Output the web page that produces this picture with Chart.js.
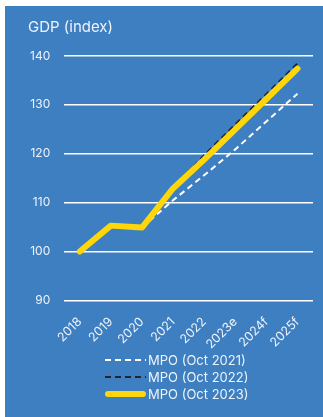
<!DOCTYPE html>
<html>
<head>
<meta charset="utf-8">
<script src="https://cdn.jsdelivr.net/npm/chart.js@4.4.0/dist/chart.umd.min.js"></script>
<style>
    html, body { margin: 0; padding: 0; background: #ffffff; }
    .box {
        position: absolute;
        left: 5px; top: 6px;
        width: 318px; height: 411px;
        background: #3e7fc1;
    }
</style>
</head>
<body>
<div class="box"><canvas id="gdpChart"></canvas></div>
<script>
/* GDP index, three MPO vintages */
const years = ['2018', '2019', '2020', '2021', '2022', '2023e', '2024f', '2025f'];
const mpoOct2021 = [null, null, 104.9, 110.5, 115.6, 120.9, 126.6, 132.3];
const mpoOct2022 = [null, null, null, 112.9, 119.7, 126.0, 132.2, 138.5];
const mpoOct2023 = [100, 105.3, 104.9, 112.9, 118.8, 125.0, 131.2, 137.4];
const yTicks = [90, 100, 110, 120, 130, 140];
const chartTitle = 'GDP (index)';

const fontFamily = 'Inter, "Open Sans", sans-serif';
const textColor = '#eef3fa';

// title + legend drawn by hand so they sit like the original
const decor = {
    id: 'decor',
    afterDraw(chart) {
        const ctx = chart.ctx;
        ctx.save();
        ctx.fillStyle = textColor;
        ctx.font = '15px ' + fontFamily;
        ctx.textBaseline = 'middle';
        ctx.fillText(chartTitle, 23, 21);
        ctx.restore();

        const x0 = 100, lineLen = 41, top = 354, rowH = 17;
        chart.data.datasets.forEach(function(ds, i) {
            const y = top + i * rowH;
            ctx.save();
            ctx.strokeStyle = ds.borderColor;
            ctx.lineWidth = ds.borderWidth;
            ctx.lineCap = ds.borderCapStyle || 'butt';
            ctx.setLineDash(ds.borderDash || []);
            ctx.beginPath();
            const inset = ds.borderCapStyle === 'round' ? ds.borderWidth / 2 : 0;
            ctx.moveTo(x0 + inset, y);
            ctx.lineTo(x0 + lineLen - inset, y);
            ctx.stroke();
            ctx.restore();
            ctx.save();
            ctx.fillStyle = textColor;
            ctx.font = '13px ' + fontFamily;
            ctx.textBaseline = 'middle';
            ctx.fillText(ds.label, x0 + lineLen + 2, y + 1);
            ctx.restore();
        });
    }
};

const ctx = document.getElementById('gdpChart').getContext('2d');
const chart = new Chart(ctx, {
    type: 'line',
    data: {
        labels: years,
        datasets: [{
            label: 'MPO (Oct 2021)',
            data: mpoOct2021,
            borderColor: '#ffffff',
            borderWidth: 2,
            borderDash: [6, 4],
            order: 2
        }, {
            label: 'MPO (Oct 2022)',
            data: mpoOct2022,
            borderColor: '#1f2630',
            borderWidth: 2,
            borderDash: [6, 4],
            order: 1
        }, {
            label: 'MPO (Oct 2023)',
            data: mpoOct2023,
            borderColor: '#ffd60a',
            borderWidth: 6,
            borderCapStyle: 'round',
            borderJoinStyle: 'round',
            order: 0
        }]
    },
    options: {
        responsive: true,
        maintainAspectRatio: false,
        animation: false,
        spanGaps: false,
        elements: {
            point: { radius: 0 },
            line: { tension: 0 }
        },
        layout: {
            padding: { left: 11, right: 10, top: 50, bottom: 59 }
        },
        plugins: {
            legend: { display: false },
            tooltip: { enabled: false },
            title: { display: false }
        },
        scales: {
            x: {
                offset: true,
                grid: { display: false },
                border: { display: false },
                ticks: {
                    color: textColor,
                    font: { family: fontFamily, size: 12.5 },
                    maxRotation: 45,
                    minRotation: 45,
                    padding: 6
                }
            },
            y: {
                min: 90,
                max: 140,
                afterBuildTicks: function(axis) {
                    axis.ticks = yTicks.map(function(v) { return { value: v }; });
                },
                grid: {
                    color: '#ffffff',
                    lineWidth: 1.5,
                    drawTicks: false
                },
                border: { display: false },
                ticks: {
                    color: textColor,
                    font: { family: fontFamily, size: 12 },
                    padding: 14
                }
            }
        }
    },
    plugins: [decor]
});
</script>
</body>
</html>
